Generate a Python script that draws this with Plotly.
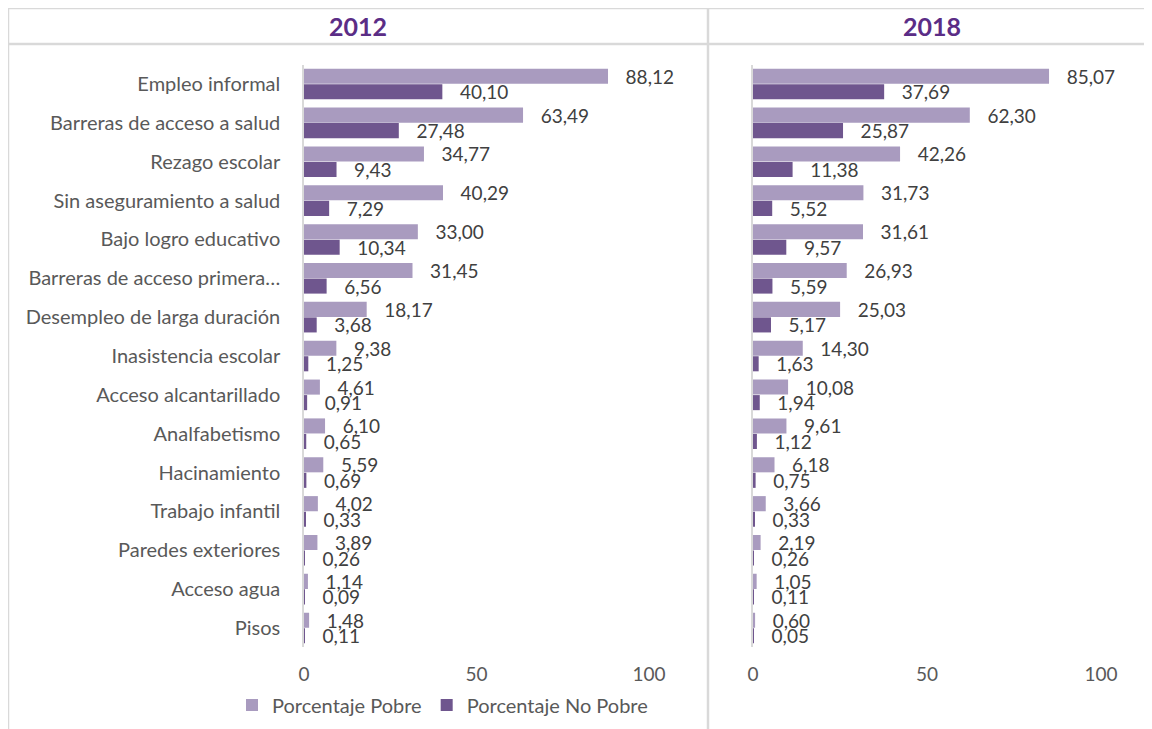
import plotly.graph_objects as go

categories = [
    "Empleo informal", "Barreras de acceso a salud", "Rezago escolar",
    "Sin aseguramiento a salud", "Bajo logro educativo", "Barreras de acceso primera…",
    "Desempleo de larga duración", "Inasistencia escolar", "Acceso alcantarillado",
    "Analfabetismo", "Hacinamiento", "Trabajo infantil", "Paredes exteriores",
    "Acceso agua", "Pisos",
]
pobre_2012 = [88.12, 63.49, 34.77, 40.29, 33.00, 31.45, 18.17, 9.38, 4.61, 6.10, 5.59, 4.02, 3.89, 1.14, 1.48]
nopobre_2012 = [40.10, 27.48, 9.43, 7.29, 10.34, 6.56, 3.68, 1.25, 0.91, 0.65, 0.69, 0.33, 0.26, 0.09, 0.11]
pobre_2018 = [85.07, 62.30, 42.26, 31.73, 31.61, 26.93, 25.03, 14.30, 10.08, 9.61, 6.18, 3.66, 2.19, 1.05, 0.60]
nopobre_2018 = [37.69, 25.87, 11.38, 5.52, 9.57, 5.59, 5.17, 1.63, 1.94, 1.12, 0.75, 0.33, 0.26, 0.11, 0.05]
panel_titles = ["2012", "2018"]
series_names = ["Porcentaje Pobre", "Porcentaje No Pobre"]
x_ticks = [0, 50, 100]

C_LIGHT = "#a99bbf"
C_DARK = "#6f568e"
FONT = "Lato"
OFF = 8                       # page body margin
W, H = 1152 - OFF, 729 - OFF


def px(x):
    return (x - OFF) / W


def py(y):
    return 1 - (y - OFF) / H


def fmt(v):
    return "\u00a0\u00a0\u00a0" + f"{v:.2f}".replace(".", ",")


fig = go.Figure()
panels = [(pobre_2012, nopobre_2012, "x", "y", True), (pobre_2018, nopobre_2018, "x2", "y2", False)]
for pob, nop, xa, ya, show in panels:
    for vals, name, col in [(pob, series_names[0], C_LIGHT), (nop, series_names[1], C_DARK)]:
        fig.add_trace(go.Bar(
            y=categories, x=vals, orientation="h", name=name,
            marker=dict(color=col, line=dict(width=0)),
            text=[fmt(v) for v in vals], textposition="outside",
            textfont=dict(family=FONT, size=19, color="#404040"),
            constraintext="none", cliponaxis=False,
            xaxis=xa, yaxis=ya, showlegend=show, legendgroup=name,
        ))

ydom = [py(647.4), py(64.6)]
xcommon = dict(range=[0, 100], tickvals=x_ticks, showgrid=False, zeroline=False,
               showline=False, ticks="outside", ticklen=10, tickcolor="rgba(0,0,0,0)",
               tickfont=dict(family=FONT, size=19, color="#595959"), fixedrange=True,
               automargin=False)
ycommon = dict(autorange="reversed", showgrid=False, zeroline=False, showline=True,
               linecolor="#d9d9d9", linewidth=1.5, ticks="outside", ticklen=18,
               tickcolor="rgba(0,0,0,0)", domain=ydom,
               tickfont=dict(family=FONT, size=20, color="#595959"), fixedrange=True,
               automargin=False)

fig.update_layout(
    width=W, height=H, margin=dict(l=0, r=0, t=0, b=0, autoexpand=False),
    paper_bgcolor="white", plot_bgcolor="white",
    barmode="group", bargap=0.2, bargroupgap=0.03,
    separators=",.",
    font=dict(family=FONT, color="#595959"),
    xaxis=dict(domain=[px(304), px(649)], anchor="y", **xcommon),
    yaxis=dict(anchor="x", **ycommon),
    xaxis2=dict(domain=[px(753), px(1101)], anchor="y2", **xcommon),
    yaxis2=dict(anchor="x2", showticklabels=False, **ycommon),
    legend=dict(orientation="h", x=px(232), y=py(705), xanchor="left", yanchor="middle",
                font=dict(family=FONT, size=20, color="#595959"), bgcolor="rgba(0,0,0,0)",
                traceorder="normal"),
    showlegend=True,
)

line = dict(color="#d9d9d9", width=2.5)
for x0, y0, x1, y1 in [(8, 8, 1152, 8), (8, 44, 1152, 44), (8, 8, 8, 729), (708, 8, 708, 729)]:
    fig.add_shape(type="line", xref="paper", yref="paper",
                  x0=px(x0), x1=px(x1), y0=py(y0), y1=py(y1), line=line)

for title, cx in zip(panel_titles, [358, 932]):
    fig.add_annotation(text="<b>" + title + "</b>", xref="paper", yref="paper",
                       x=px(cx), y=py(26), showarrow=False, xanchor="center", yanchor="middle",
                       font=dict(family=FONT, size=25, color="#5b2d86"))

fig.write_html("out.html")
